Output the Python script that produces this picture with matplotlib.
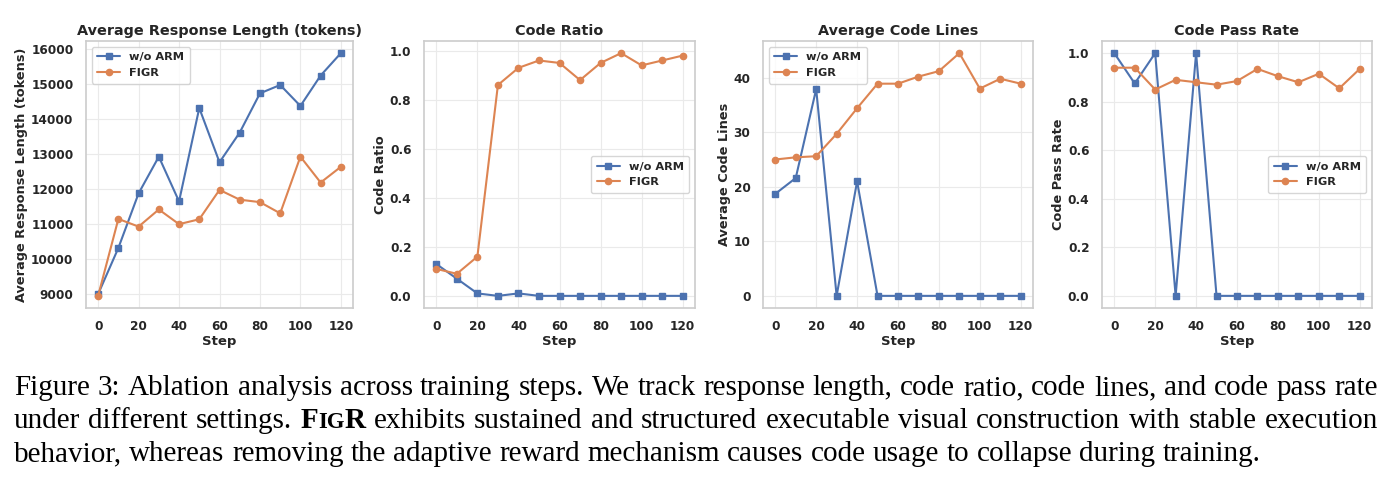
import matplotlib
matplotlib.use("Agg")
from matplotlib import pyplot as plt
import seaborn as sns

# datos
steps = [0, 10, 20, 30, 40, 50, 60, 70, 80, 90, 100, 110, 120]

respuestaSinArm = [9000, 10320, 11880, 12930, 11650, 14320, 12770, 13620, 14740, 14980, 14380, 15250, 15890]
respuestaFigr = [8950, 11150, 10930, 11420, 11000, 11140, 11980, 11700, 11630, 11310, 12930, 12190, 12640]

ratioSinArm = [0.13, 0.07, 0.01, 0.0, 0.01, 0.0, 0.0, 0.0, 0.0, 0.0, 0.0, 0.0, 0.0]
ratioFigr = [0.11, 0.09, 0.16, 0.86, 0.93, 0.96, 0.95, 0.88, 0.95, 0.99, 0.94, 0.96, 0.98]

lineasSinArm = [18.7, 21.6, 37.9, 0.0, 21.0, 0.0, 0.0, 0.0, 0.0, 0.0, 0.0, 0.0, 0.0]
lineasFigr = [25.0, 25.4, 25.6, 29.7, 34.4, 38.9, 38.9, 40.2, 41.2, 44.5, 38.0, 39.8, 38.9]

passSinArm = [1.0, 0.875, 1.0, 0.0, 1.0, 0.0, 0.0, 0.0, 0.0, 0.0, 0.0, 0.0, 0.0]
passFigr = [0.94, 0.94, 0.85, 0.89, 0.88, 0.87, 0.885, 0.935, 0.905, 0.88, 0.915, 0.855, 0.935]

titulos = ["Average Response Length (tokens)", "Code Ratio", "Average Code Lines", "Code Pass Rate"]
etiquetasY = ["Average Response Length (tokens)", "Code Ratio", "Average Code Lines", "Code Pass Rate"]
leyendas = ["upper left", "center right", "upper left", "center right"]
nombres = ["w/o ARM", "FIGR"]

sns.set_theme(style="whitegrid")
plt.rcParams["font.family"] = ["DejaVu Sans"]
plt.rcParams["font.weight"] = "bold"
plt.rcParams["axes.labelweight"] = "bold"
plt.rcParams["axes.titleweight"] = "bold"

AZUL = "#4C72B0"
NARANJA = "#DD8452"

fig = plt.figure(figsize=(13.94, 4.90), dpi=100)

W, H = 1394.0, 490.0
izquierdas = [86, 424, 763, 1102]
anchos = [267, 271, 270, 270]
arriba, abajo = 41, 308

series = [(respuestaSinArm, respuestaFigr), (ratioSinArm, ratioFigr),
          (lineasSinArm, lineasFigr), (passSinArm, passFigr)]

for i in range(4):
    ax = fig.add_axes([izquierdas[i] / W, 1 - abajo / H, anchos[i] / W, (abajo - arriba) / H])
    sinArm, figr = series[i]
    ax.plot(steps, sinArm, color=AZUL, marker="s", markersize=4.5, linewidth=1.5, label=nombres[0])
    ax.plot(steps, figr, color=NARANJA, marker="o", markersize=4.5, linewidth=1.5, label=nombres[1])
    ax.set_title(titulos[i], fontsize=10.4, fontweight="bold", pad=4)
    ax.set_xlabel("Step", fontsize=9.5, fontweight="bold", labelpad=1)
    ax.set_ylabel(etiquetasY[i], fontsize=9.3, fontweight="bold", labelpad=2)
    ax.set_xticks([0, 20, 40, 60, 80, 100, 120])
    ax.tick_params(axis="both", labelsize=8.7, pad=3)
    for lab in ax.get_xticklabels() + ax.get_yticklabels():
        lab.set_fontweight("bold")
    ax.grid(True, color="#eaeaea", linewidth=0.8)
    for s in ax.spines.values():
        s.set_color("#cccccc")
        s.set_linewidth(1.2)
    leg = ax.legend(loc=leyendas[i], fontsize=8.2, frameon=True, handlelength=2.0, borderpad=0.5)
    for t in leg.get_texts():
        t.set_fontweight("bold")

# pie de figura justificado
renderer = fig.canvas.get_renderer()
FS = 21
SERIF = "Liberation Serif"

lineas = [
    [[(w, FS, "normal")] for w in "Figure 3: Ablation analysis across training steps. We track response length, code ratio, code lines, and code pass rate".split()],
    [[("under", FS, "normal")], [("different", FS, "normal")], [("settings.", FS, "normal")],
     [("F", FS, "bold"), ("IG", FS * 0.78, "bold"), ("R", FS, "bold")]]
    + [[(w, FS, "normal")] for w in "exhibits sustained and structured executable visual construction with stable execution".split()],
    [[(w, FS, "normal")] for w in "behavior, whereas removing the adaptive reward mechanism causes code usage to collapse during training.".split()],
]
posY = [395, 428, 461]
x0, x1 = 14, 1378


def ancho(texto, fs, peso):
    t = fig.text(0, 0, texto, fontsize=fs, fontweight=peso, family=SERIF)
    w = t.get_window_extent(renderer).width
    t.remove()
    return w


for n, linea in enumerate(lineas):
    anchosPalabras = [sum(ancho(p[0], p[1], p[2]) for p in palabra) for palabra in linea]
    if n < len(lineas) - 1:
        hueco = (x1 - x0 - sum(anchosPalabras)) / (len(linea) - 1)
    else:
        hueco = FS * 100 / 72 * 0.25
    x = x0
    for palabra, wp in zip(linea, anchosPalabras):
        xp = x
        for texto, fs, peso in palabra:
            fig.text(xp / W, 1 - posY[n] / H, texto, fontsize=fs, fontweight=peso, family=SERIF,
                     color="black", ha="left", va="baseline")
            xp += ancho(texto, fs, peso)
        x += wp + hueco

fig.savefig("out.png", dpi=100)
